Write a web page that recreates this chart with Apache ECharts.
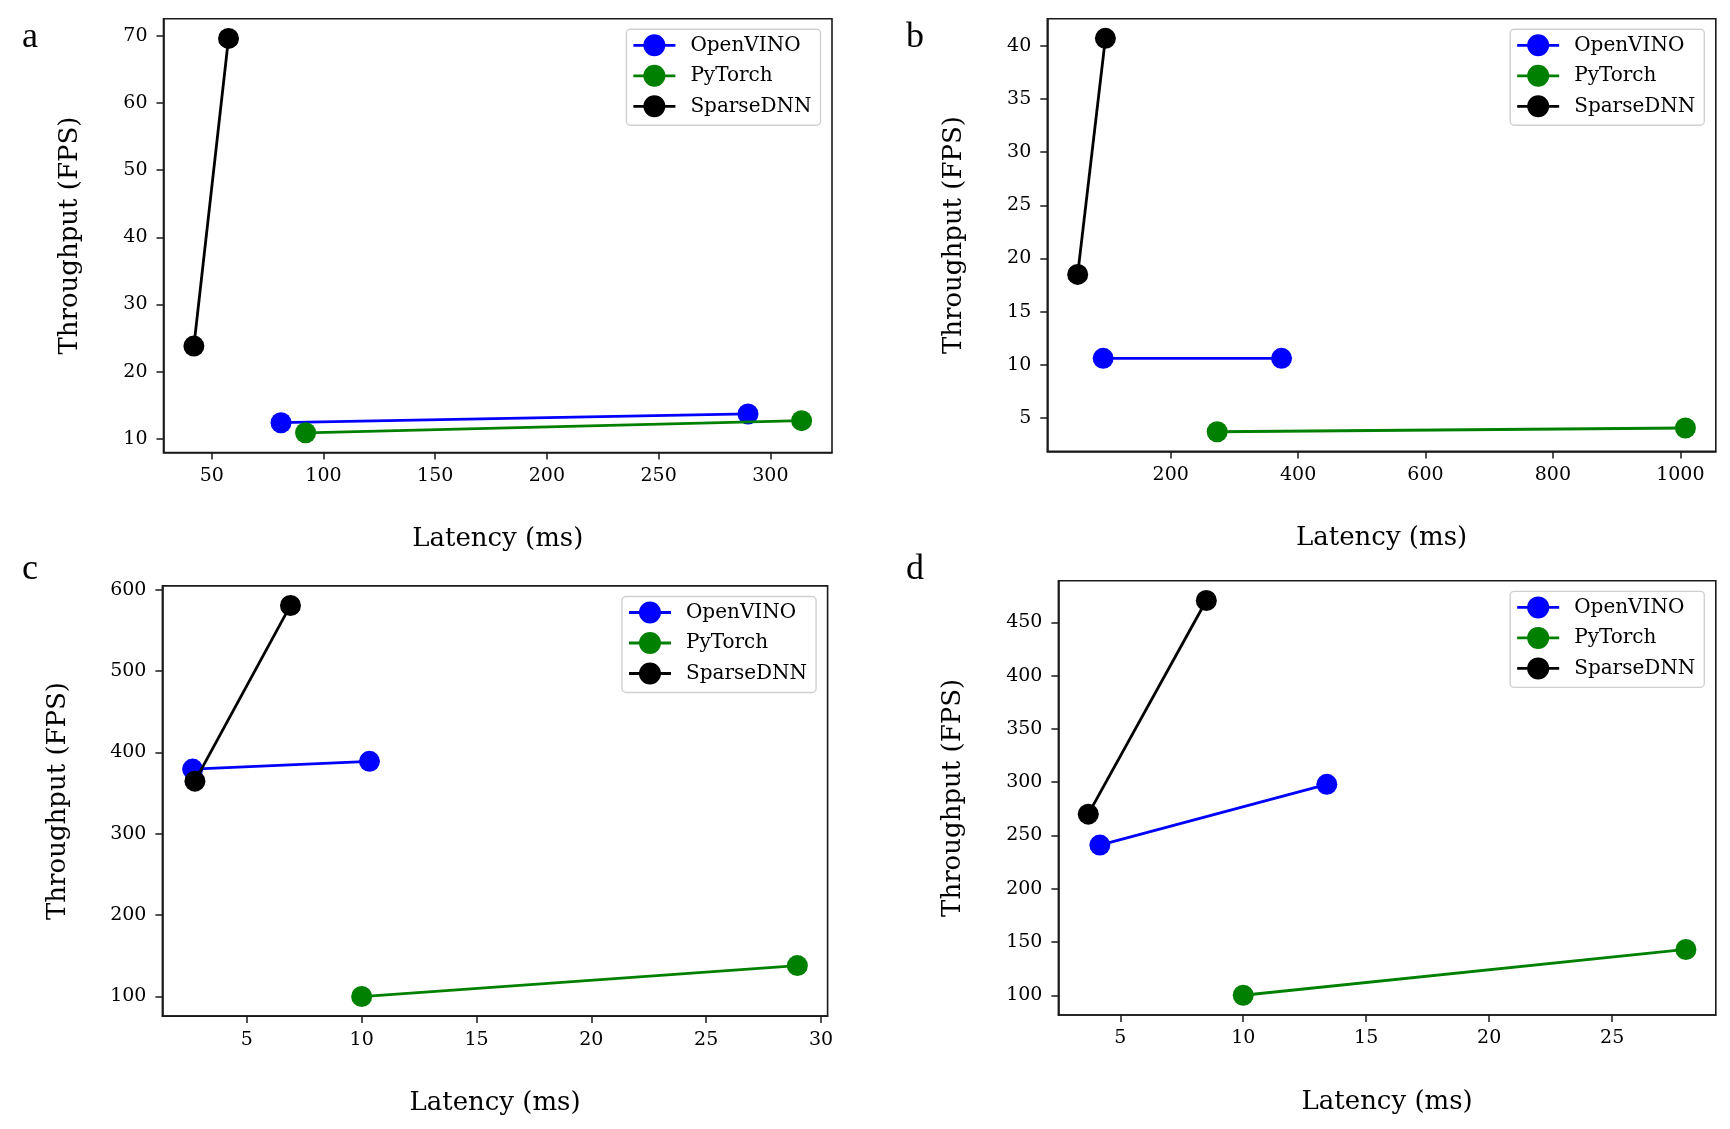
<!DOCTYPE html>
<html>
<head>
<meta charset="utf-8">
<script src="https://cdn.jsdelivr.net/npm/echarts@6/dist/echarts.min.js"></script>
<style>
  html, body { margin: 0; padding: 0; background: #fff; }
  #chart { width: 1730px; height: 1129px; }
</style>
</head>
<body>
<div id="chart"></div>
<script>
// ---------- DATA ----------
const seriesNames = ['OpenVINO', 'PyTorch', 'SparseDNN'];
const panelLetters = ['a', 'b', 'c', 'd'];

// Panel a
const aOpenVINO  = [[81, 12.4], [290, 13.7]];
const aPyTorch   = [[92, 10.9], [314, 12.7]];
const aSparseDNN = [[42, 23.8], [57.5, 69.6]];
const aXTicks = [50, 100, 150, 200, 250, 300];
const aYTicks = [10, 20, 30, 40, 50, 60, 70];

// Panel b
const bOpenVINO  = [[94, 10.6], [374, 10.6]];
const bPyTorch   = [[273, 3.7], [1008, 4.05]];
const bSparseDNN = [[54, 18.5], [97.5, 40.7]];
const bXTicks = [200, 400, 600, 800, 1000];
const bYTicks = [5, 10, 15, 20, 25, 30, 35, 40];

// Panel c
const cOpenVINO  = [[2.64, 379.5], [10.34, 389]];
const cPyTorch   = [[10.0, 100], [28.97, 138]];
const cSparseDNN = [[2.74, 364.6], [6.9, 580.5]];
const cXTicks = [5, 10, 15, 20, 25, 30];
const cYTicks = [100, 200, 300, 400, 500, 600];

// Panel d
const dOpenVINO  = [[4.17, 241], [13.4, 298]];
const dPyTorch   = [[10.0, 100], [28.0, 143]];
const dSparseDNN = [[3.7, 270], [8.5, 470.6]];
const dXTicks = [5, 10, 15, 20, 25];
const dYTicks = [100, 150, 200, 250, 300, 350, 400, 450];

const xTitle = 'Latency (ms)';
const yTitle = 'Throughput (FPS)';

// ---------- LAYOUT / STYLE ----------
const FONT = 'DejaVu Serif';
const colors = ['#0000ff', '#008000', '#000000'];
const panels = [
  { data: [aOpenVINO, aPyTorch, aSparseDNN], xt: aXTicks, yt: aYTicks,
    box: { l: 163.5, r: 832, t: 18.7, b: 452.5 }, yGap: 80, letter: [31, 38] },
  { data: [bOpenVINO, bPyTorch, bSparseDNN], xt: bXTicks, yt: bYTicks,
    box: { l: 1047.3, r: 1715.8, t: 18.7, b: 451.4 }, yGap: 80, letter: [915, 38] },
  { data: [cOpenVINO, cPyTorch, cSparseDNN], xt: cXTicks, yt: cYTicks,
    box: { l: 162.4, r: 827.6, t: 585.9, b: 1016.1 }, yGap: 91, letter: [31, 570] },
  { data: [dOpenVINO, dPyTorch, dSparseDNN], xt: dXTicks, yt: dYTicks,
    box: { l: 1058.4, r: 1715.8, t: 580.8, b: 1015 }, yGap: 92, letter: [915, 570] }
];

// legend icon: line with a circle marker (42 x 22)
const legendIcon = 'path://M0 9.6H11V12.4H0Z M31 9.6H42V12.4H31Z M32 11A11 11 0 1 1 10 11A11 11 0 1 1 32 11Z';

function extent(pts, idx) {
  let mn = Infinity, mx = -Infinity;
  pts.forEach(p => { mn = Math.min(mn, p[idx]); mx = Math.max(mx, p[idx]); });
  const pad = (mx - mn) * 0.05;
  return [mn - pad, mx + pad];
}

const grid = [], xAxis = [], yAxis = [], series = [], legend = [], graphic = [];
const axisColor = '#1a1a1a';

panels.forEach((p, i) => {
  const all = [].concat(...p.data);
  const xe = extent(all, 0), ye = extent(all, 1);
  grid.push({
    left: p.box.l, top: p.box.t,
    width: p.box.r - p.box.l, height: p.box.b - p.box.t,
    show: true, borderColor: axisColor, borderWidth: 1.6,
    backgroundColor: 'transparent'
  });
  xAxis.push({
    gridIndex: i, type: 'value', min: xe[0], max: xe[1],
    name: xTitle, nameLocation: 'middle', nameGap: 74,
    nameTextStyle: { fontFamily: FONT, fontSize: 26, color: '#000' },
    splitLine: { show: false },
    axisLine: { show: true, onZero: false, lineStyle: { color: axisColor, width: 1.6 } },
    axisTick: { show: true, inside: false, length: 7, customValues: p.xt,
      lineStyle: { color: axisColor, width: 1.5 } },
    axisLabel: { customValues: p.xt, margin: 14, fontFamily: FONT, fontSize: 19, color: '#000',
      formatter: v => String(v) }
  });
  yAxis.push({
    gridIndex: i, type: 'value', min: ye[0], max: ye[1],
    name: yTitle, nameLocation: 'middle', nameGap: p.yGap,
    nameTextStyle: { fontFamily: FONT, fontSize: 26, color: '#000' },
    splitLine: { show: false },
    axisLine: { show: true, onZero: false, lineStyle: { color: axisColor, width: 1.6 } },
    axisTick: { show: true, inside: false, length: 7, customValues: p.yt,
      lineStyle: { color: axisColor, width: 1.5 } },
    axisLabel: { customValues: p.yt, margin: 16, fontFamily: FONT, fontSize: 19, color: '#000',
      formatter: v => String(v) }
  });
  seriesNames.forEach((nm, k) => {
    series.push({
      type: 'line', name: nm, xAxisIndex: i, yAxisIndex: i,
      data: p.data[k], symbol: 'circle', symbolSize: 21, showSymbol: true,
      lineStyle: { color: colors[k], width: 2.8 },
      itemStyle: { color: colors[k] },
      emphasis: { disabled: true }, z: 2 + k, clip: false
    });
  });
  legend.push({
    data: seriesNames.map(n => ({ name: n, icon: legendIcon })),
    orient: 'vertical',
    right: 1730 - (p.box.r - 11.5), top: p.box.t + 10.6,
    itemWidth: 42, itemHeight: 22, itemGap: 8.5,
    padding: [5, 9, 8, 7],
    borderColor: '#d0d0d0', borderWidth: 1.4, borderRadius: 4,
    backgroundColor: 'rgba(255,255,255,0.8)',
    textStyle: { fontFamily: FONT, fontSize: 20, color: '#000', padding: [0, 0, 0, 10] },
    selectedMode: false
  });
  graphic.push({
    type: 'text', left: p.letter[0] - 9, top: p.letter[1] - 18,
    style: { text: panelLetters[i], font: '36px "Liberation Serif"', fill: '#000' }
  });
});

const chart = echarts.init(document.getElementById('chart'), null, { renderer: 'canvas' });
chart.setOption({
  animation: false,
  backgroundColor: '#ffffff',
  grid, xAxis, yAxis, series, legend, graphic
});
</script>
</body>
</html>
